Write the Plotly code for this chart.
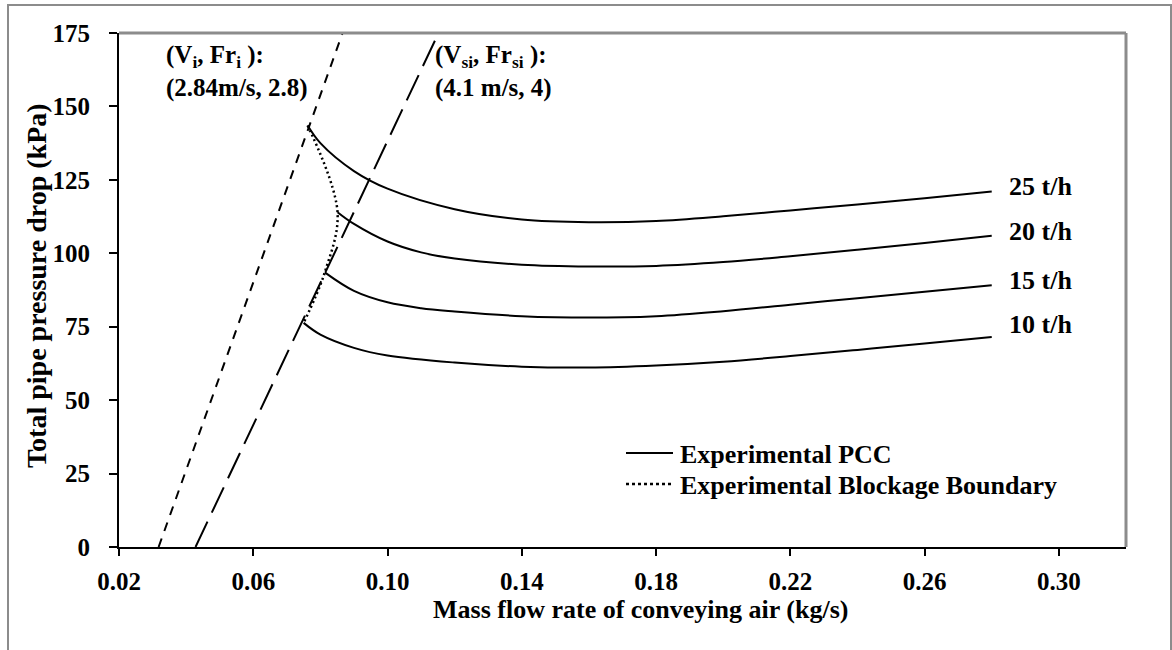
import plotly.graph_objects as go

# Pipe conveying characteristics (PCC) for each solids feed rate
rates = ["25 t/h", "20 t/h", "15 t/h", "10 t/h"]

air_25 = [0.0762, 0.080, 0.090, 0.100, 0.120, 0.140, 0.160, 0.180, 0.200, 0.220, 0.240, 0.260, 0.280]
dp_25 = [143.5, 137.5, 128.0, 122.0, 115.0, 111.5, 110.6, 111.0, 112.6, 114.6, 116.6, 118.7, 121.0]

air_20 = [0.0851, 0.090, 0.100, 0.110, 0.120, 0.140, 0.160, 0.180, 0.200, 0.220, 0.240, 0.260, 0.280]
dp_20 = [114.0, 110.0, 104.0, 100.3, 98.2, 96.1, 95.5, 95.7, 97.0, 99.0, 101.2, 103.5, 106.0]

air_15 = [0.0813, 0.090, 0.100, 0.110, 0.120, 0.140, 0.160, 0.180, 0.200, 0.220, 0.240, 0.260, 0.280]
dp_15 = [93.5, 87.2, 83.3, 81.3, 80.2, 78.6, 78.1, 78.6, 80.3, 82.5, 84.7, 86.9, 89.1]

air_10 = [0.0750, 0.080, 0.090, 0.100, 0.120, 0.140, 0.160, 0.180, 0.200, 0.220, 0.240, 0.260, 0.280]
dp_10 = [76.3, 72.3, 67.8, 65.2, 62.8, 61.4, 61.1, 61.8, 63.1, 65.0, 67.1, 69.3, 71.5]

# Blockage boundary through the minimum-air points of each PCC
block_air = [0.0762, 0.0851, 0.0813, 0.0750]
block_dp = [143.5, 114.0, 93.5, 76.3]

# Constant-velocity / Froude number lines
vi_air = [0.0318, 0.0866]
vi_dp = [0.0, 175.0]
vsi_air = [0.0428, 0.1152]
vsi_dp = [0.0, 175.0]

x_ticks = [0.02, 0.06, 0.10, 0.14, 0.18, 0.22, 0.26, 0.30]
y_ticks = [0, 25, 50, 75, 100, 125, 150, 175]

legend_names = ["Experimental PCC", "Experimental Blockage Boundary"]

W, H = 1172, 650
L, R, T, B = 119, 1126, 33, 547
FONT = "Liberation Serif"
FS = 26

pw, ph = R - L, B - T
def px(xp):
    return (xp - L) / pw
def py(yp):
    return (B - yp) / ph

fig = go.Figure()

fig.add_trace(go.Scatter(x=vi_air, y=vi_dp, mode="lines", showlegend=False,
                         line=dict(color="black", width=2, dash="9px,8px")))
fig.add_trace(go.Scatter(x=vsi_air, y=vsi_dp, mode="lines", showlegend=False,
                         line=dict(color="black", width=2, dash="28px,10px")))

curves = [(air_25, dp_25), (air_20, dp_20), (air_15, dp_15), (air_10, dp_10)]
for xs, ys in curves:
    fig.add_trace(go.Scatter(x=xs, y=ys, mode="lines", name=legend_names[0], showlegend=False,
                             line=dict(color="black", width=2, shape="spline", smoothing=1)))

fig.add_trace(go.Scatter(x=block_air, y=block_dp, mode="lines", name=legend_names[1],
                         showlegend=False,
                         line=dict(color="black", width=2.5, dash="2px,3px",
                                   shape="spline", smoothing=1)))

# feed-rate labels at the right end of each curve
label_y = [122.6, 107.3, 90.9, 75.6]
for txt, ly in zip(rates, label_y):
    fig.add_annotation(x=0.2845, y=ly, text="<b>%s</b>" % txt, showarrow=False,
                       xanchor="left", yanchor="middle",
                       font=dict(family=FONT, size=FS, color="black"))

fig.add_annotation(x=0.0333, y=173, showarrow=False, xanchor="left", yanchor="top",
                   align="left",
                   text="<b>(V<sub>i</sub>, Fr<sub>i</sub> ):</b><br><b>(2.84m/s, 2.8)</b>",
                   font=dict(family=FONT, size=25, color="black"))
fig.add_annotation(x=0.1134, y=173, showarrow=False, xanchor="left", yanchor="top",
                   align="left",
                   text="<b>(V<sub>si</sub>, Fr<sub>si</sub> ):</b><br><b>(4.1 m/s, 4)</b>",
                   font=dict(family=FONT, size=25, color="black"))

# legend drawn as sample lines with labels
for (name, dash, yp) in [(legend_names[0], "solid", 453), (legend_names[1], "dot", 484)]:
    fig.add_shape(type="line", xref="paper", yref="paper", x0=px(626), x1=px(673),
                  y0=py(yp), y1=py(yp),
                  line=dict(color="black", width=2 if dash == "solid" else 2.5, dash=dash))
    fig.add_annotation(xref="paper", yref="paper", x=px(678), y=py(yp + 1), showarrow=False,
                       xanchor="left", yanchor="middle", text="<b>%s</b>" % name,
                       font=dict(family=FONT, size=FS, color="black"))

# outer frame and plot-area border
fig.add_shape(type="rect", xref="paper", yref="paper", x0=px(8), x1=px(1171),
              y0=py(660), y1=py(5), line=dict(color="#8c8c8c", width=2), layer="below")
fig.add_shape(type="line", xref="paper", yref="paper", x0=0, x1=1, y0=1, y1=1,
              line=dict(color="#8c8c8c", width=3))
fig.add_shape(type="line", xref="paper", yref="paper", x0=1, x1=1, y0=0, y1=1,
              line=dict(color="#8c8c8c", width=3))

fig.add_annotation(xref="paper", yref="paper", x=px(640), y=py(609), showarrow=False,
                   xanchor="center", yanchor="middle",
                   text="<b>Mass flow rate of conveying air (kg/s)</b>",
                   font=dict(family=FONT, size=FS, color="black"))
fig.add_annotation(xref="paper", yref="paper", x=px(36), y=py(286), showarrow=False,
                   xanchor="center", yanchor="middle", textangle=-90,
                   text="<b>Total pipe pressure drop (kPa)</b>",
                   font=dict(family=FONT, size=28, color="black"))

fig.update_layout(
    width=W, height=H,
    margin=dict(l=L, r=W - R, t=T, b=H - B, pad=0),
    paper_bgcolor="white", plot_bgcolor="white",
    showlegend=False,
    xaxis=dict(range=[0.02, 0.32], tickvals=x_ticks, ticktext=["%.2f" % v for v in x_ticks],
               showgrid=False, zeroline=False, showline=True, linecolor="black", linewidth=2,
               ticks="outside", ticklen=7, tickwidth=2, tickcolor="black",
               ticklabelstandoff=4,
               tickfont=dict(family=FONT, size=25, color="black", weight="bold")),
    yaxis=dict(range=[0, 175], tickvals=y_ticks,
               showgrid=False, zeroline=False, showline=True, linecolor="black", linewidth=2,
               ticks="outside", ticklen=8, tickwidth=2, tickcolor="black",
               ticklabelstandoff=14,
               tickfont=dict(family=FONT, size=25, color="black", weight="bold")),
)

fig.write_html("out.html")
